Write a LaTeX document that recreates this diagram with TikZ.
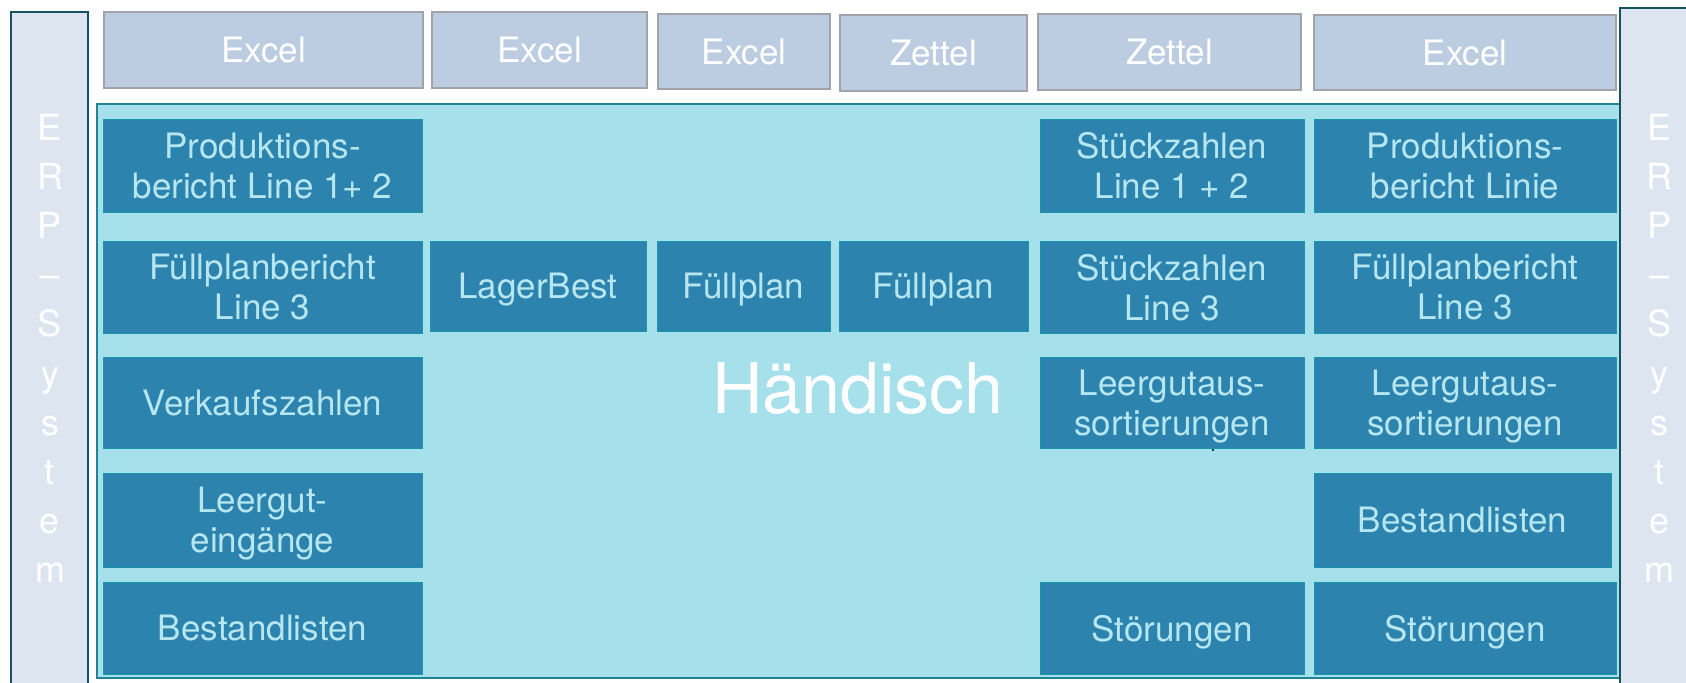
\documentclass[tikz,border=0pt]{standalone}
\usepackage{fontspec}
\setmainfont{TeX Gyre Heros}

\definecolor{erpfill}{RGB}{221,230,240}
\definecolor{erpline}{RGB}{22,82,98}
\definecolor{toolfill}{RGB}{188,205,225}
\definecolor{toolline}{RGB}{160,164,170}
\definecolor{panelfill}{RGB}{166,224,235}
\definecolor{panelline}{RGB}{30,132,150}
\definecolor{taskfill}{RGB}{44,131,173}
\definecolor{taskline}{RGB}{24,150,172}
\definecolor{tasktext}{RGB}{182,230,240}

\tikzset{
    cell/.style 2 args={minimum width=#1*0.5pt, minimum height=#2*0.5pt}, % size in px
    erp/.style={draw=erpline, line width=1pt, fill=erpfill}, % side bars
    tool/.style={draw=toolline, line width=0.75pt, fill=toolfill, text=white,
        inner sep=0pt, text depth=0pt, font=\fontsize{17.5}{20}\selectfont},
    task/.style={draw=taskline, line width=0.5pt, fill=taskfill, text=tasktext,
        inner sep=0pt, align=center, text depth=0pt, font=\fontsize{17.5}{20}\selectfont},
    panel/.style={draw=panelline, line width=0.75pt, fill=panelfill, inner sep=0pt},
    letter/.style={text=white, anchor=base, font=\fontsize{18}{18}\selectfont},
}

\begin{document}
\begin{tikzpicture}[x=0.5pt, y=-0.5pt]
    \useasboundingbox[fill=white] (0,0) rectangle (1686,682);

    % tools on top
    \node[tool, cell={319}{76}] (xls1) at (263.5,50) {Excel};
    \node[tool, cell={215}{76}] (xls2) at (539.5,50) {Excel};
    \node[tool, cell={172}{75}] (xls3) at (744,51.5) {Excel};
    \node[tool, cell={187}{76}] (zet1) at (933.5,53) {Zettel};
    \node[tool, cell={263}{76}] (zet2) at (1169.5,52) {Zettel};
    \node[tool, cell={302}{75}] (xls4) at (1465,52.5) {Excel};

    % manual area
    \node[panel, cell={1523}{574}] (hand) at (858.5,391) {};
    \node[text=white, anchor=base, font=\fontsize{35}{40}\selectfont] (handlabel) at (858,413) {Händisch};

    % left column
    \node[task, cell={319}{93}] (prod12) at (262.5,165.5) {Produktions-\\bericht Line 1+ 2};
    \node[task, cell={319}{92}] (fpb3l) at (262.5,287) {Füllplanbericht\\Line 3};
    \node[task, cell={319}{91}] (verk) at (262.5,402.5) {Verkaufszahlen};
    \node[task, cell={319}{94}] (leerein) at (262.5,520) {Leergut-\\eingänge};
    \node[task, cell={319}{92}] (bestl) at (262.5,628) {Bestandlisten};

    % middle row
    \node[task, cell={216}{90}] (lager) at (538,286) {LagerBest};
    \node[task, cell={173}{90}] (fp1) at (743.5,286) {Füllplan};
    \node[task, cell={189}{90}] (fp2) at (933.5,286) {Füllplan};

    % right columns
    \node[task, cell={264}{93}] (stk12) at (1172,165.5) {Stückzahlen\\Line 1 + 2};
    \node[task, cell={264}{92}] (stk3) at (1172,287) {Stückzahlen\\Line 3};
    \node[task, cell={264}{91}] (leeraus1) at (1172,402.5) {Leergutaus-\\sortierungen};
    \node[task, cell={264}{92}] (stoer1) at (1172,628) {Störungen};

    \node[task, cell={302}{93}] (prodl) at (1465,165.5) {Produktions-\\bericht Linie};
    \node[task, cell={302}{92}] (fpb3r) at (1465,287) {Füllplanbericht\\Line 3};
    \node[task, cell={302}{91}] (leeraus2) at (1465,402.5) {Leergutaus-\\sortierungen};
    \node[task, cell={297}{94}] (bestr) at (1462.5,520) {Bestandlisten};
    \node[task, cell={302}{92}] (stoer2) at (1465,628) {Störungen};

    \fill[black] (1213,450) circle (1.2);

    % ERP bars left and right
    \draw[erp] (11,12) rectangle (88,692);
    \draw[erp] (1620,8) rectangle (1700,692);
    \foreach \ch [count=\i from 0] in {E,R,P,–,S,y,s,t,e,m} {
        \node[letter] (erpl\i) at (50,140+49.2*\i) {\ch};
        \node[letter] (erpr\i) at (1659,140+49.2*\i) {\ch};
    }
\end{tikzpicture}
\end{document}
